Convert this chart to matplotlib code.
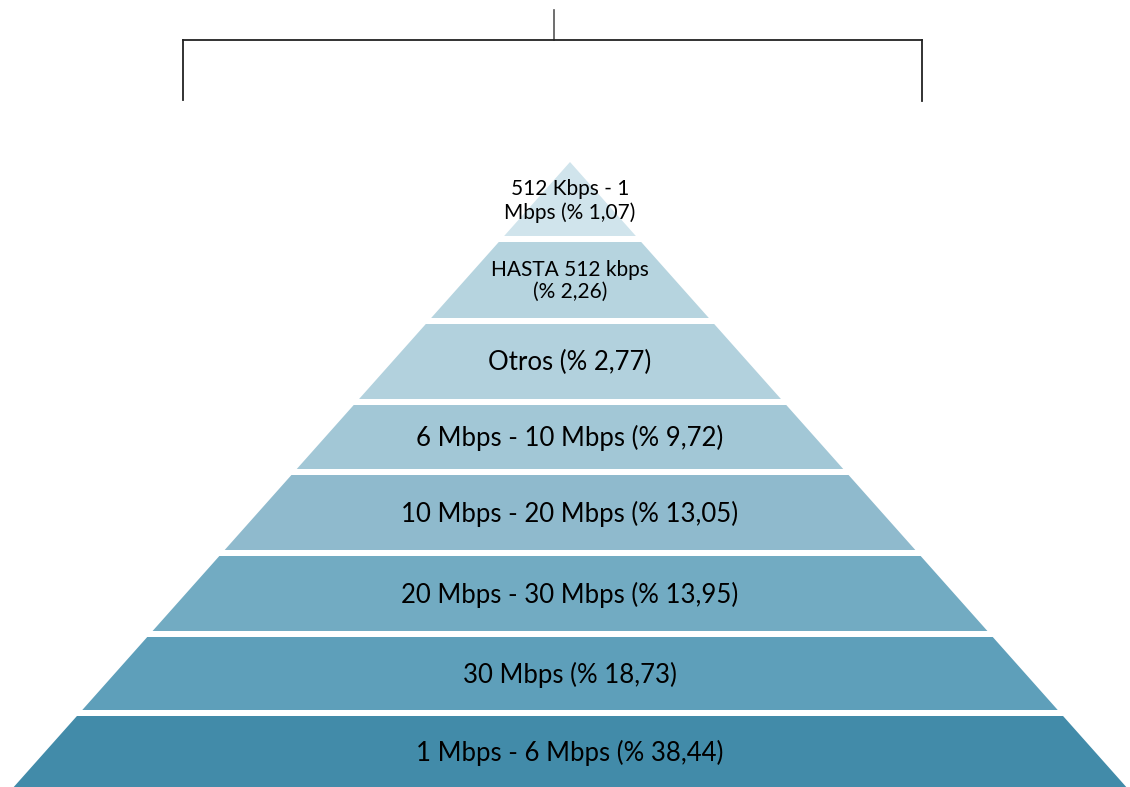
import matplotlib
matplotlib.use("Agg")
import matplotlib.pyplot as plt
from matplotlib.patches import Polygon

# Data (top to bottom)
labels = ["512 Kbps - 1\nMbps (% 1,07)", "HASTA 512 kbps\n(% 2,26)", "Otros (% 2,77)",
          "6 Mbps - 10 Mbps (% 9,72)", "10 Mbps - 20 Mbps (% 13,05)",
          "20 Mbps - 30 Mbps (% 13,95)", "30 Mbps (% 18,73)", "1 Mbps - 6 Mbps (% 38,44)"]
values = [1.07, 2.26, 2.77, 9.72, 13.05, 13.95, 18.73, 38.44]

# Layout (pixel coordinates)
colors = ["#d0e4ec", "#b6d4df", "#b2d1dd", "#a2c7d6", "#8fbacd", "#72abc2", "#5e9fba", "#428ba9"]
tops = [162, 242, 324, 405, 475, 556, 637, 716]
bottoms = [236, 318, 399, 469, 550, 631, 710, 800]
font_sizes = [15, 15, 18.5, 18.5, 18.5, 18.5, 18.5, 18.5]

W, H = 1130, 787
apex_x, apex_y, slope = 570, 162, 0.89

fig = plt.figure(figsize=(W / 100, H / 100), dpi=100)
ax = fig.add_axes([0, 0, 1, 1])
ax.set_xlim(0, W)
ax.set_ylim(H, 0)
ax.axis("off")

def half(y):
    return (y - apex_y) * slope

for lab, t, b, c, fs in zip(labels, tops, bottoms, colors, font_sizes):
    pts = [(apex_x - half(t), t), (apex_x + half(t), t),
           (apex_x + half(b), b), (apex_x - half(b), b)]
    ax.add_patch(Polygon(pts, closed=True, facecolor=c, edgecolor="none"))
    yc = (t + min(b, H)) / 2 + 1
    if lab.startswith("512"):
        yc = 201
    ax.text(apex_x, yc, lab, ha="center", va="center", fontsize=fs,
            family=["Lato", "DejaVu Sans"], color="black", linespacing=1.15)

# bracket connector at top
lc = "#222222"
ax.plot([554, 554], [10, 40], color="#555555", lw=1.2)
ax.plot([183, 922], [40, 40], color=lc, lw=1.3)
ax.plot([183, 183], [40, 100], color=lc, lw=1.3)
ax.plot([922, 922], [40, 101], color=lc, lw=1.3)

fig.savefig("out.png", dpi=100)
